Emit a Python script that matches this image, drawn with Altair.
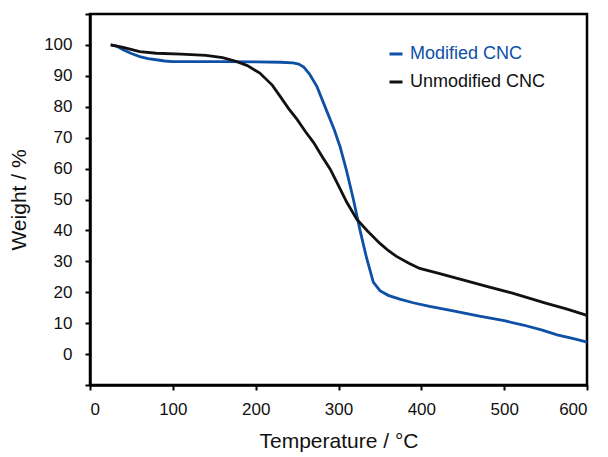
import altair as alt
import pandas as pd

# Modified CNC (blue)
temp_mod = [25, 32, 40, 50, 60, 70, 80, 90, 100, 130, 160, 200, 230, 245, 252, 258, 265, 274, 286, 295,
            302, 310, 318, 326, 334, 342, 350, 360, 374, 390, 410, 440, 470, 500, 523, 545, 564, 585, 600]
weight_mod = [100, 99.6, 98.4, 97.2, 96.2, 95.6, 95.2, 94.8, 94.6, 94.6, 94.6, 94.5, 94.4, 94.2, 93.8, 92.8, 90.6, 86.5, 78.5, 72.5,
              67, 59, 50, 40, 31, 23.3, 20.5, 19.0, 17.8, 16.6, 15.4, 13.9, 12.3, 10.8, 9.4, 7.8, 6.2, 4.9, 3.9]

# Unmodified CNC (black)
temp_unmod = [25, 40, 60, 80, 110, 140, 160, 175, 190, 205, 220, 230, 240, 250, 260, 270, 280, 290, 300,
              310, 322, 335, 350, 360, 370, 385, 398, 420, 450, 480, 510, 550, 575, 600]
weight_unmod = [100, 99.2, 97.8, 97.3, 97.0, 96.6, 95.9, 94.8, 93.3, 90.9, 87, 83.2, 79.3, 75.9, 72.0, 68.4, 64.0, 59.8, 54.5,
                49.1, 43.6, 39.8, 35.8, 33.5, 31.6, 29.4, 27.7, 26.2, 24.0, 21.8, 19.7, 16.5, 14.6, 12.5]

series = ["Modified CNC", "Unmodified CNC"]
colors = ["#0d50a6", "#111111"]

x_ticks = [0, 100, 200, 300, 400, 500, 600]
y_ticks = [-10, 0, 10, 20, 30, 40, 50, 60, 70, 80, 90, 100, 110]

df = pd.concat([
    pd.DataFrame({"T": temp_mod, "W": weight_mod, "s": series[0], "o": 0}),
    pd.DataFrame({"T": temp_unmod, "W": weight_unmod, "s": series[1], "o": 1}),
])

FONT = "Liberation Sans"

chart = alt.Chart(df).mark_line(strokeWidth=2.8).encode(
    x=alt.X("T:Q", scale=alt.Scale(domain=[0, 600], nice=False, zero=False),
            axis=alt.Axis(values=x_ticks, title="Temperature / °C", grid=False,
                          domainColor="black", domainWidth=2.5, tickColor="black", tickWidth=2,
                          tickSize=5, labelFontSize=17, labelPadding=11, labelColor="#111",
                          titleFontSize=21, titleFontWeight="normal", titlePadding=13,
                          titleColor="#111", labelFont=FONT, titleFont=FONT)),
    y=alt.Y("W:Q", scale=alt.Scale(domain=[-10, 110], nice=False, zero=False),
            axis=alt.Axis(values=y_ticks, title="Weight / %", grid=False,
                          labelExpr="datum.value < 0 || datum.value > 100 ? '' : datum.label",
                          domainColor="black", domainWidth=2.5, tickColor="black", tickWidth=2,
                          tickSize=5, labelFontSize=17, labelPadding=13, labelColor="#111",
                          titleFontSize=21, titleFontWeight="normal", titlePadding=14,
                          titleColor="#111", labelFont=FONT, titleFont=FONT)),
    color=alt.Color("s:N", scale=alt.Scale(domain=series, range=colors),
                    legend=alt.Legend(title=None, orient="none", legendX=297, legendY=31,
                                      symbolType="stroke", symbolStrokeWidth=3, symbolSize=169,
                                      labelFontSize=18, labelFont=FONT, labelOffset=5,
                                      rowPadding=10, padding=0,
                                      labelColor={"expr": "datum.label == 'Modified CNC' ? '#0d50a6' : '#111111'"})),
    order=alt.Order("o:Q"),
).properties(
    width=497, height=371,
    autosize=alt.AutoSizeParams(type="none"),
    padding={"left": 82, "top": 6, "right": 10, "bottom": 70},
).configure_view(
    stroke="black", strokeWidth=2.5
)

chart.save("out.html", embed_options={"renderer": "svg", "actions": False})
